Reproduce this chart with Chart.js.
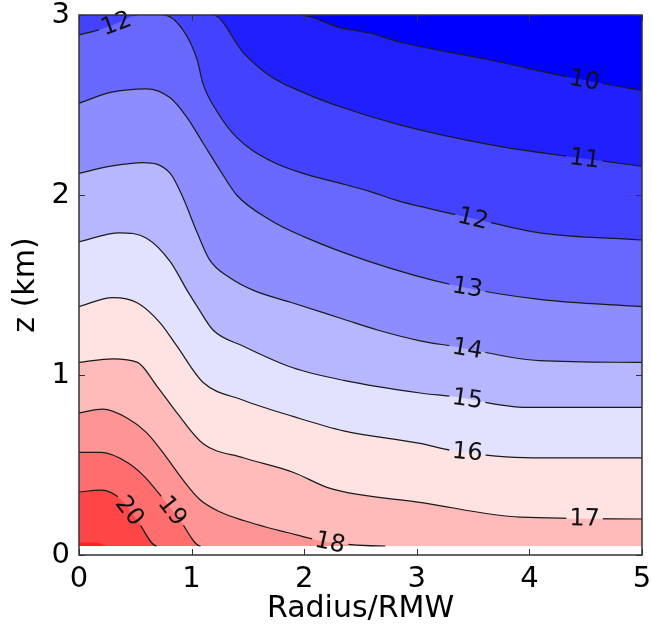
<!DOCTYPE html>
<html>
<head>
<meta charset="utf-8">
<script src="https://cdn.jsdelivr.net/npm/chart.js@4.4.1/dist/chart.umd.min.js"></script>
<style>
  html, body { margin: 0; padding: 0; background: #fff; }
</style>
</head>
<body>
<canvas id="contourChart" width="651" height="630"></canvas>
<script>
// contour levels, colour below the first level and of the band above each level
const levels = [10, 11, 12, 13, 14, 15, 16, 17, 18, 19, 20, 21];
const lowestBand = "#0000ff";
const bandColors = ["#2020ff", "#4343ff", "#6868ff", "#8d8dff", "#b7b7ff", "#e2e2ff",
                    "#ffe2e2", "#ffbaba", "#ff9494", "#ff6e6e", "#ff4646", "#ff2222"];

// data domain (km); below zBottom nothing was computed
const zTop = 3, zBottom = 0.05;
const domainTop = [[0, 3], [5, 3]];

// contour lines: [radius/RMW, z km]
const contour10 = [[0, 3], [1.96, 3], [2.32, 2.93], [2.58, 2.90], [2.85, 2.85], [3.65, 2.75], [4.39, 2.65], [5, 2.58]];
const contour11 = [[0, 3], [1.19, 3], [1.46, 2.79], [1.70, 2.66], [1.99, 2.57], [2.32, 2.49], [2.85, 2.39], [3.65, 2.28], [4.39, 2.21], [5, 2.16]];
const contour12 = [[0, 2.89], [0.19, 2.92], [0.36, 2.96], [0.52, 3], [0.75, 3], [0.92, 2.92], [1.05, 2.75], [1.10, 2.62], [1.23, 2.46], [1.40, 2.32],
                   [1.70, 2.19], [1.99, 2.12], [2.29, 2.07], [2.58, 2.02], [2.82, 1.97], [3.50, 1.87], [4.09, 1.79], [5, 1.75]];
const contour13 = [[0, 2.51], [0.28, 2.57], [0.60, 2.59], [0.81, 2.54], [0.96, 2.43], [1.10, 2.29], [1.25, 2.14], [1.40, 2.00],
                   [1.70, 1.86], [1.99, 1.77], [2.58, 1.63], [3.32, 1.50], [4.09, 1.42], [5, 1.38]];
const contour14 = [[0, 2.12], [0.28, 2.16], [0.57, 2.18], [0.81, 2.12], [0.92, 1.99], [1.05, 1.79], [1.16, 1.64], [1.34, 1.54],
                   [1.55, 1.47], [1.90, 1.40], [2.35, 1.31], [2.65, 1.25], [3.03, 1.19], [3.32, 1.16], [4.09, 1.08], [5, 1.07]];
const contour15 = [[0, 1.74], [0.36, 1.79], [0.60, 1.76], [0.81, 1.63], [0.96, 1.47], [1.05, 1.38], [1.19, 1.25], [1.46, 1.16],
                   [1.90, 1.04], [2.35, 0.97], [3.03, 0.90], [3.32, 0.88], [3.98, 0.82], [5, 0.82]];
const contour16 = [[0, 1.38], [0.30, 1.43], [0.52, 1.40], [0.72, 1.29], [0.87, 1.16], [1.10, 0.96], [1.46, 0.86], [1.90, 0.77],
                   [2.35, 0.69], [3.03, 0.62], [3.32, 0.58], [4.03, 0.54], [5, 0.54]];
const contour17 = [[0, 1.07], [0.30, 1.09], [0.52, 1.07], [0.69, 0.94], [0.87, 0.79], [1.10, 0.62], [1.46, 0.54], [1.90, 0.46],
                   [2.23, 0.37], [3.06, 0.29], [3.92, 0.21], [5, 0.20]];
const contour18 = [[0, 0.79], [0.21, 0.81], [0.43, 0.76], [0.60, 0.68], [0.78, 0.54], [0.92, 0.42], [1.07, 0.31], [1.25, 0.24],
                   [1.47, 0.19], [1.94, 0.11], [2.23, 0.07], [2.72, 0.05], [5, 0.05]];
const contour19 = [[0, 0.57], [0.20, 0.57], [0.44, 0.51], [0.59, 0.43], [0.75, 0.31], [0.90, 0.19], [1.08, 0.05], [5, 0.05]];
const contour20 = [[0, 0.35], [0.20, 0.36], [0.37, 0.31], [0.52, 0.19], [0.69, 0.05], [5, 0.05]];
const contour21 = [[0, 0.07], [0.14, 0.07], [0.27, 0.05], [5, 0.05]];
const contours = [contour10, contour11, contour12, contour13, contour14, contour15,
                  contour16, contour17, contour18, contour19, contour20, contour21];

// inline contour labels: which level, and where along x
const labelLevels = [12, 10, 11, 12, 13, 14, 15, 16, 17, 18, 19, 20];
const labelXs = [0.33, 4.49, 4.49, 3.50, 3.45, 3.45, 3.45, 3.45, 4.49, 2.23, 0.83, 0.45];

const xTicks = [0, 1, 2, 3, 4, 5];
const zTicks = [0, 1, 2, 3];

const FONT = "DejaVu Sans";
const lineColor = "#1a1a1a";
const toXY = pts => pts.map(([x, z]) => ({ x: x, y: z }));
const onEdge = p => p.parsed.y >= zTop - 1e-6 || p.parsed.y <= zBottom + 1e-6;

const datasets = [{
  data: toXY(domainTop),
  fill: { value: zBottom },
  backgroundColor: lowestBand,
  borderColor: "rgba(0,0,0,0)",
  pointRadius: 0,
  order: 100
}];

contours.forEach((pts, i) => {
  datasets.push({
    data: toXY(pts),
    fill: { value: zBottom },
    backgroundColor: bandColors[i],
    borderColor: "rgba(0,0,0,0)",
    pointRadius: 0,
    cubicInterpolationMode: "monotone",
    order: 90 - i
  });
});

contours.forEach((pts, i) => {
  if (levels[i] === 21) return;
  datasets.push({
    data: toXY(pts),
    contourLine: true,
    fill: false,
    borderColor: lineColor,
    borderWidth: 1.2,
    pointRadius: 0,
    cubicInterpolationMode: "monotone",
    segment: {
      borderColor: ctx => (onEdge(ctx.p0) && onEdge(ctx.p1)) ? "rgba(0,0,0,0)" : lineColor
    },
    order: 0
  });
});

const LABEL_SIZE = 24;

function labelBoxes(chart) {
  const xs = chart.scales.x, ys = chart.scales.y;
  const ctx = chart.ctx;
  ctx.font = LABEL_SIZE + "px '" + FONT + "'";
  return labelLevels.map((lev, k) => {
    const pts = contours[levels.indexOf(lev)];
    const x = labelXs[k];
    let j = 0;
    while (j < pts.length - 2 && pts[j + 1][0] < x) j++;
    const a = pts[j], b = pts[j + 1];
    const t = (x - a[0]) / (b[0] - a[0]);
    const z = a[1] + t * (b[1] - a[1]);
    const ang = Math.atan2(ys.getPixelForValue(b[1]) - ys.getPixelForValue(a[1]),
                           xs.getPixelForValue(b[0]) - xs.getPixelForValue(a[0]));
    const text = String(lev);
    return {
      text: text,
      cx: xs.getPixelForValue(x),
      cy: ys.getPixelForValue(z),
      ang: ang,
      w: ctx.measureText(text).width + 6,
      h: LABEL_SIZE * 0.8
    };
  });
}

const contourDecor = {
  id: "contourDecor",
  beforeDatasetDraw(chart, args) {
    if (!chart.data.datasets[args.index].contourLine) return;
    const { ctx, chartArea: a } = chart;
    ctx.save();
    ctx.beginPath();
    ctx.rect(a.left - 2, a.top - 2, a.width + 4, a.height + 4);
    labelBoxes(chart).forEach(b => {
      const c = Math.cos(b.ang), s = Math.sin(b.ang);
      const corners = [[-b.w / 2, -b.h / 2], [b.w / 2, -b.h / 2], [b.w / 2, b.h / 2], [-b.w / 2, b.h / 2]];
      corners.forEach(([u, v], n) => {
        const px = b.cx + u * c - v * s, py = b.cy + u * s + v * c;
        if (n === 0) ctx.moveTo(px, py); else ctx.lineTo(px, py);
      });
      ctx.closePath();
    });
    ctx.clip("evenodd");
  },
  afterDatasetDraw(chart, args) {
    if (chart.data.datasets[args.index].contourLine) chart.ctx.restore();
  },
  afterDatasetsDraw(chart) {
    const { ctx, chartArea: a } = chart;
    const xs = chart.scales.x, ys = chart.scales.y;

    // contour labels
    ctx.save();
    ctx.font = LABEL_SIZE + "px '" + FONT + "'";
    ctx.fillStyle = "#111";
    ctx.textAlign = "center";
    ctx.textBaseline = "middle";
    labelBoxes(chart).forEach(b => {
      ctx.save();
      ctx.translate(b.cx, b.cy);
      ctx.rotate(b.ang);
      ctx.fillText(b.text, 0, 1);
      ctx.restore();
    });
    ctx.restore();

    // frame and inward ticks
    ctx.save();
    ctx.strokeStyle = "#333";
    ctx.lineWidth = 1.5;
    ctx.strokeRect(a.left, a.top, a.width, a.height);
    ctx.lineWidth = 1;
    ctx.beginPath();
    xTicks.forEach(v => {
      const px = Math.round(xs.getPixelForValue(v)) + 0.5;
      ctx.moveTo(px, a.bottom); ctx.lineTo(px, a.bottom - 6);
      ctx.moveTo(px, a.top); ctx.lineTo(px, a.top + 6);
    });
    zTicks.forEach(v => {
      const py = Math.round(ys.getPixelForValue(v)) + 0.5;
      ctx.moveTo(a.left, py); ctx.lineTo(a.left + 6, py);
      ctx.moveTo(a.right, py); ctx.lineTo(a.right - 6, py);
    });
    ctx.stroke();
    ctx.restore();
  }
};

new Chart(document.getElementById("contourChart"), {
  type: "line",
  data: { datasets: datasets },
  options: {
    responsive: false,
    animation: false,
    devicePixelRatio: 1,
    events: [],
    layout: { padding: { left: 0, top: 15, right: 9, bottom: 0 } },
    plugins: { legend: { display: false }, tooltip: { enabled: false } },
    scales: {
      x: {
        type: "linear", min: 0, max: 5,
        afterBuildTicks: s => { s.ticks = xTicks.map(v => ({ value: v })); },
        afterFit: s => { s.height = 75; s.paddingLeft = 0; s.paddingRight = 0; },
        grid: { display: false, drawTicks: false },
        border: { display: false },
        ticks: { color: "#000", font: { family: FONT, size: 29 }, padding: 7, maxRotation: 0 },
        title: { display: true, text: "Radius/RMW", color: "#000",
                 font: { family: FONT, size: 30 }, padding: { top: 0, bottom: 3 } }
      },
      y: {
        type: "linear", min: 0, max: 3,
        afterBuildTicks: s => { s.ticks = zTicks.map(v => ({ value: v })); },
        afterFit: s => { s.width = 79; s.paddingTop = 0; s.paddingBottom = 0; },
        grid: { display: false, drawTicks: false },
        border: { display: false },
        ticks: { color: "#000", font: { family: FONT, size: 29 }, padding: 9 },
        title: { display: true, text: "z (km)", color: "#000",
                 font: { family: FONT, size: 30 }, padding: { top: 8, bottom: 8 } }
      }
    }
  },
  plugins: [contourDecor]
});
</script>
</body>
</html>
